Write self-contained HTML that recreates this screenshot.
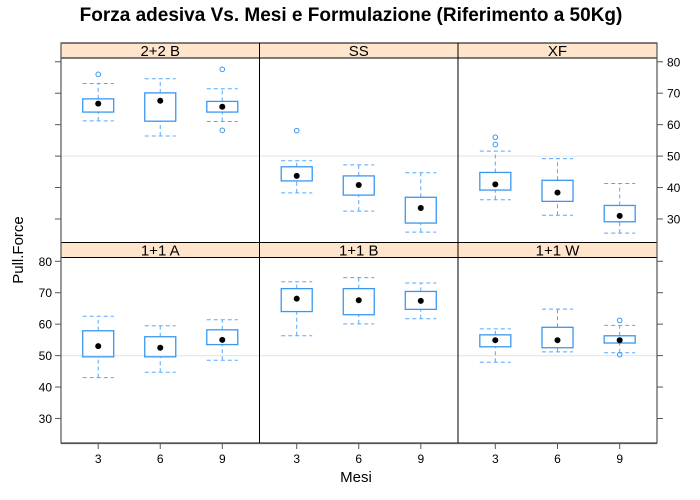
<!DOCTYPE html>
<html><head><meta charset="utf-8"><style>
body{margin:0;background:#fff;}
svg{display:block;font-family:"Liberation Sans",sans-serif;}
</style></head><body>
<svg id="c" width="700" height="500">
<text x="351" y="21" text-anchor="middle" font-size="19" font-weight="bold">Forza adesiva Vs. Mesi e Formulazione (Riferimento a 50Kg)</text>
<text x="356" y="482" text-anchor="middle" font-size="15">Mesi</text>
<text transform="translate(23,250) rotate(-90)" text-anchor="middle" font-size="15">Pull.Force</text>
</svg>
<script>
const categories = [3, 6, 9];
const panelNames = ["2+2 B", "SS", "XF", "1+1 A", "1+1 B", "1+1 W"];
const yTicks = [30, 40, 50, 60, 70, 80];
// each stat row per category: [whiskerLow, boxLow, median, boxHigh, whiskerHigh]
const stats_22B = [[61.2,64.0,66.7,68.2,73.1],[56.4,61.1,67.6,70.1,74.6],[61.0,64.0,65.7,67.4,71.4]];
const out_22B = [[76.0],[],[77.6,58.2]];
const stats_SS = [[38.3,42.1,43.7,46.6,48.5],[32.5,37.6,40.8,43.7,47.2],[25.8,28.7,33.5,36.9,44.7]];
const out_SS = [[58.1],[],[]];
const stats_XF = [[36.1,39.2,41.0,44.8,51.6],[31.2,35.6,38.4,42.3,49.2],[25.5,29.1,31.0,34.3,41.3]];
const out_XF = [[56.0,53.7],[],[]];
const stats_11A = [[43.0,49.6,53.0,57.9,62.5],[44.7,49.6,52.5,56.0,59.5],[48.5,53.5,55.0,58.2,61.4]];
const out_11A = [[],[],[]];
const stats_11B = [[56.3,64.0,68.1,71.3,73.5],[60.1,63.0,67.6,71.3,74.8],[61.7,64.7,67.4,70.4,73.1]];
const out_11B = [[],[],[]];
const stats_11W = [[47.9,52.8,54.9,56.6,58.5],[51.2,52.5,54.9,59.0,64.8],[50.9,54.0,54.9,56.3,59.6]];
const out_11W = [[],[],[61.2,50.3]];

const allStats=[stats_22B,stats_SS,stats_XF,stats_11A,stats_11B,stats_11W];
const allOut=[out_22B,out_SS,out_XF,out_11A,out_11B,out_11W];
const svg=document.getElementById('c');
const NS="http://www.w3.org/2000/svg";
function mk(t,a,p){const e=document.createElementNS(NS,t);for(const k in a)e.setAttribute(k,a[k]);(p||svg).appendChild(e);return e;}
const colX=[61,259.5,458,657];
const rowTop=[58,257.5], rowH=185.5, stripH=15;
const yMin=22.2,yMax=81.2;
function yS(v,r){return rowTop[r]+(yMax-v)/(yMax-yMin)*rowH;}
function xS(i,c){const l=colX[c],w=colX[c+1]-colX[c];return l+(i+1-0.4)/3.2*w;}
for(let p=0;p<6;p++){
  const r=p<3?0:1,c=p%3;
  const l=colX[c],w=colX[c+1]-colX[c],t=rowTop[r];
  const g=mk('g',{});
  
  
  mk('line',{x1:l,x2:l+w,y1:yS(50,r),y2:yS(50,r),stroke:'#e8e8e8','stroke-width':1.2},g);
  const s=mk('rect',{x:l,y:t-stripH,width:w,height:stripH,fill:'#ffe5cc',stroke:'#000','stroke-width':1},g);
  
  
  const st=mk('text',{x:l+w/2,y:t-2,'text-anchor':'middle','font-size':15},g);st.textContent=panelNames[p];
  
  
  for(let i=0;i<3;i++){
    const d=allStats[p][i],x=xS(i,c),bw=31;
    const wg=mk('g',{},g);
    
    
    const dash={stroke:'#56a8ff','stroke-width':1,'stroke-dasharray':'4,3',fill:'none'};
    mk('line',Object.assign({x1:x,x2:x,y1:yS(d[0],r),y2:yS(d[1],r)},dash),wg);
    mk('line',Object.assign({x1:x,x2:x,y1:yS(d[3],r),y2:yS(d[4],r)},dash),wg);
    mk('line',Object.assign({x1:x-bw/2,x2:x+bw/2,y1:yS(d[0],r),y2:yS(d[0],r)},dash),wg);
    mk('line',Object.assign({x1:x-bw/2,x2:x+bw/2,y1:yS(d[4],r),y2:yS(d[4],r)},dash),wg);
    mk('rect',{x:x-bw/2,y:yS(d[3],r),width:bw,height:yS(d[1],r)-yS(d[3],r),fill:'none',stroke:'#3a97f0','stroke-width':1.3},wg);
    mk('circle',{cx:x,cy:yS(d[2],r),r:3,fill:'#000'},wg);
    allOut[p][i].forEach(o=>mk('circle',{cx:x,cy:yS(o,r),r:2.3,fill:'none',stroke:'#3a97f0','stroke-width':1},wg));
  }
  mk('rect',{x:l,y:t,width:w,height:rowH,fill:'none',stroke:'#000','stroke-width':1},g);
}
mk('line',{x1:61,x2:61,y1:43,y2:443.5,stroke:'#555','stroke-width':1.2});
mk('line',{x1:657,x2:657,y1:43,y2:443.5,stroke:'#555','stroke-width':1.2});
mk('line',{x1:61,x2:657,y1:443.5,y2:443.5,stroke:'#555','stroke-width':1.2});
for(let r=0;r<2;r++){
  yTicks.forEach(v=>{
    const y=yS(v,r);
    mk('line',{x1:55,x2:61,y1:y,y2:y,stroke:'#555'});
    mk('line',{x1:657,x2:663,y1:y,y2:y,stroke:'#555'});
    if(r===1){const tx=mk('text',{x:52,y:y+4.5,'text-anchor':'end','font-size':12});tx.textContent=v;
      
      }
    else{const tx=mk('text',{x:667,y:y+4.5,'text-anchor':'start','font-size':12});tx.textContent=v;
      
      }
  });
}
for(let c=0;c<3;c++)categories.forEach((cat,i)=>{
  const x=xS(i,c);
  mk('line',{x1:x,x2:x,y1:443.5,y2:449,stroke:'#555'});
  const tx=mk('text',{x:x,y:463,'text-anchor':'middle','font-size':12});tx.textContent=cat;
  
  
});
</script>
</body></html>
